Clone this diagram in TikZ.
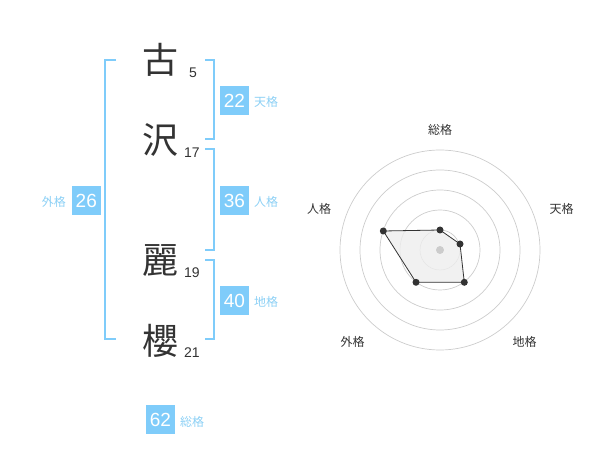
\documentclass[tikz,border=0pt]{standalone}
\usepackage{fontspec}
\setmainfont{Liberation Sans}
\newfontfamily\cjk{Noto Sans CJK JP}
\definecolor{bblue}{RGB}{127,204,250}
\definecolor{lblue}{RGB}{140,208,245}
\definecolor{dark}{RGB}{51,51,51}
\definecolor{ring}{RGB}{204,204,204}
\definecolor{polyfill}{RGB}{238,238,238}
\begin{document}
\begin{tikzpicture}[x=1pt,y=-1pt,
  kanji/.style={inner sep=0pt,text=dark,font=\cjk\fontsize{36}{36}\selectfont},
  strokes/.style={inner sep=0pt,text=dark,font=\fontsize{14}{14}\selectfont},
  score/.style={fill=bblue,text=white,minimum width=29pt,minimum height=29pt,inner sep=0pt,font=\fontsize{19}{19}\selectfont},
  kaku/.style={inner sep=0pt,text=lblue,font=\cjk\fontsize{12}{12}\selectfont},
  bracket/.style={draw=bblue,line width=2pt},
  axislabel/.style={inner sep=0pt,text=dark,font=\cjk\fontsize{12}{12}\selectfont},
  vertex/.style={circle,fill=dark,inner sep=0pt,minimum size=7pt}]
\useasboundingbox (0,0) rectangle (600,470);
% characters
\node[kanji] (k1) at (160,60) {古};
\node[kanji] (k2) at (160,140) {沢};
\node[kanji] (k3) at (160,261) {麗};
\node[kanji] (k4) at (160,341) {櫻};
\node[strokes] (s1) at (193,73) {5};
\node[strokes] (s2) at (192,153) {17};
\node[strokes] (s3) at (192,273) {19};
\node[strokes] (s4) at (192,353) {21};
% brackets
\draw[bracket] (116,60) -- (105,60) -- (105,339) -- (116,339);
\draw[bracket] (205,60) -- (214,60) -- (214,139) -- (205,139);
\draw[bracket] (205,149) -- (214,149) -- (214,250) -- (205,250);
\draw[bracket] (205,260) -- (214,260) -- (214,339) -- (205,339);
% scores
\node[score] (ten) at (234.5,100.5) {22};
\node[kaku,anchor=west] (tenl) at (254,102) {天格};
\node[score] (jin) at (234.5,200.5) {36};
\node[kaku,anchor=west] (jinl) at (254,202) {人格};
\node[score] (chi) at (234.5,300.5) {40};
\node[kaku,anchor=west] (chil) at (254,302) {地格};
\node[score] (gai) at (86.3,200.5) {26};
\node[kaku,anchor=east] (gail) at (66,202) {外格};
\node[score] (sou) at (160.5,419.5) {62};
\node[kaku,anchor=west] (soul) at (180,421.5) {総格};
% radar
\coordinate (c) at (440,250);
\foreach \r in {20,40,60,80,100} \draw[ring,line width=0.7pt] (c) circle[radius=\r];
\coordinate (p1) at (440,230);
\coordinate (p2) at (460,244);
\coordinate (p3) at (464.3,282.3);
\coordinate (p4) at (416,282.3);
\coordinate (p5) at (383.3,231);
\filldraw[fill=polyfill,fill opacity=0.8,draw=dark,line width=0.8pt] (p1) -- (p2) -- (p3) -- (p4) -- (p5) -- cycle;
\fill[ring] (c) circle[radius=4];
\foreach \p in {p1,p2,p3,p4,p5} \node[vertex] at (\p) {};
\node[axislabel] (a1) at (440,130) {総格};
\node[axislabel] (a2) at (561.5,208.5) {天格};
\node[axislabel] (a3) at (524.5,341.5) {地格};
\node[axislabel] (a4) at (352.5,341.5) {外格};
\node[axislabel] (a5) at (319,208.5) {人格};
\end{tikzpicture}
\end{document}
